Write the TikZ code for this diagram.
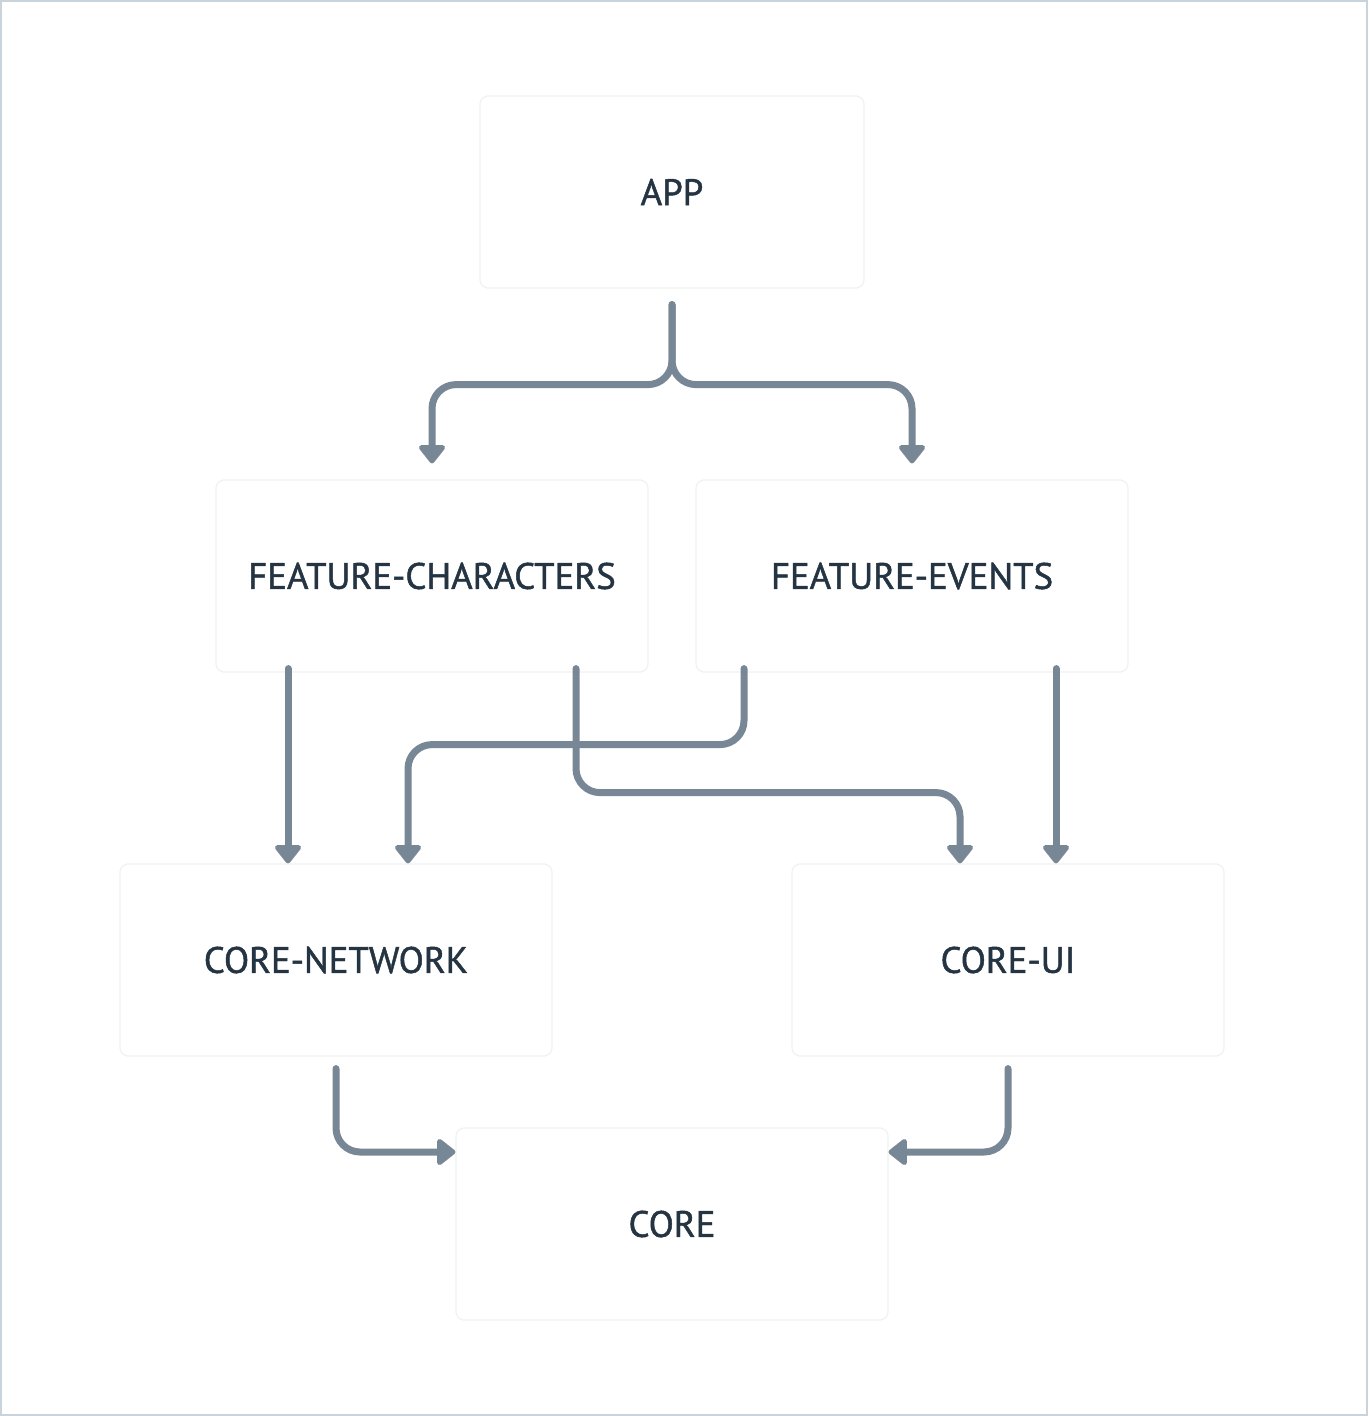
\documentclass[tikz,border=0pt]{standalone}
\usepackage{fontspec}
\setmainfont{PT Sans}[FakeBold=1.3]
\usetikzlibrary{arrows.meta}
\definecolor{linkgray}{HTML}{788795}
\definecolor{labelink}{HTML}{243442}
\definecolor{boxedge}{HTML}{F0F2F3}
\definecolor{frame}{HTML}{C9D3DB}
\begin{document}
\begin{tikzpicture}[x=0.5pt,y=-0.5pt,
		box/.style={draw=boxedge,line width=0.6pt,fill=white,rounded corners=4pt,minimum width=216pt,minimum height=96pt,inner sep=0pt,text=labelink,font=\fontsize{18.4}{20}\selectfont},
		link/.style={draw=linkgray,line width=3.5pt,line cap=round,rounded corners=12pt,-{Triangle[width=15pt,length=10pt,round]}}]
			\useasboundingbox (0,0) rectangle (1368,1416);
			\draw[frame,line width=1.2pt] (1,1) rectangle (1367,1415);
			\node[box,minimum width=192pt] (app) at (672,192) {APP};
			\node[box] (fchar) at (432,576) {FEATURE-CHARACTERS};
			\node[box] (fevents) at (912,576) {FEATURE-EVENTS};
			\node[box] (cnet) at (336,960) {CORE-NETWORK};
			\node[box] (cui) at (1008,960) {CORE-UI};
			\node[box] (core) at (672,1224) {CORE};
			\draw[link,shorten >=8pt] ([yshift=-8pt]app.south) -- ++(0,-40pt) -| (fchar.north);
			\draw[link,shorten >=8pt] ([yshift=-8pt]app.south) -- ++(0,-40pt) -| (fevents.north);
			\draw[link] ([xshift=-72pt,yshift=2pt]fchar.south) -- ([xshift=-24pt]cnet.north);
			\draw[link] ([xshift=-84pt,yshift=2pt]fevents.south) -- ++(0,-38pt) -| ([xshift=36pt]cnet.north);
			\draw[link] ([xshift=72pt,yshift=2pt]fchar.south) -- ++(0,-62pt) -| ([xshift=-24pt]cui.north);
			\draw[link] ([xshift=72pt,yshift=2pt]fevents.south) -- ([xshift=24pt]cui.north);
			\draw[link] ([yshift=-6pt]cnet.south) |- ([yshift=36pt]core.west);
			\draw[link] ([yshift=-6pt]cui.south) |- ([yshift=36pt]core.east);
		\end{tikzpicture}
\end{document}
